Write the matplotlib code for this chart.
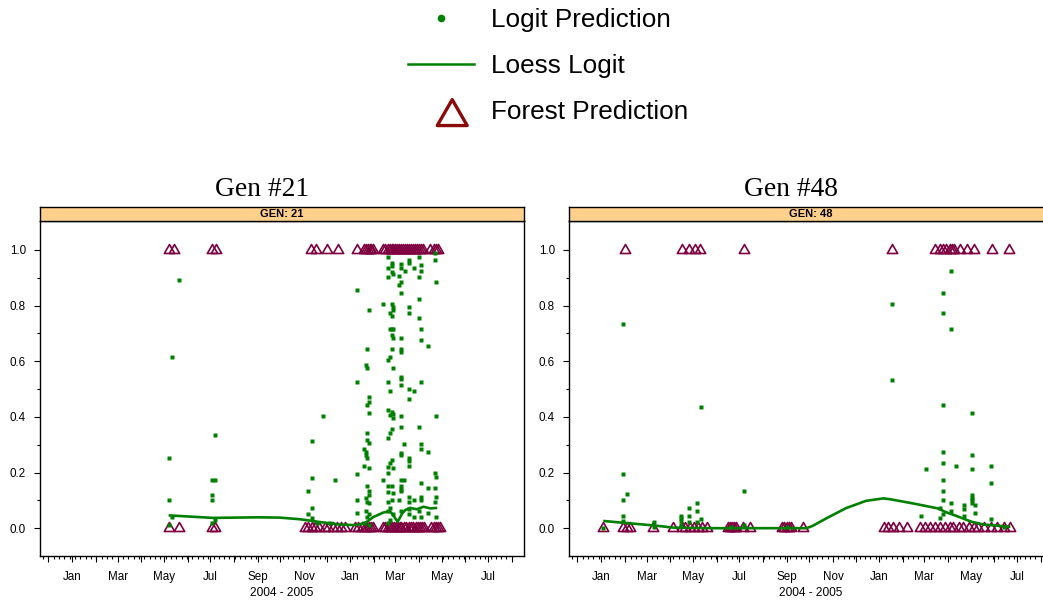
import matplotlib
matplotlib.use("Agg")
import matplotlib.pyplot as plt
import matplotlib.dates as mdates
import matplotlib.ticker as mticker
from matplotlib.lines import Line2D
from matplotlib.path import Path
import numpy as np
import pandas as pd

# ---------------------------------------------------------------- data
# Gen #21 ---------------------------------------------------------------
g21_forest_one = [
    "2004-05-07", "2004-05-14", "2004-07-03", "2004-07-08",
    "2004-11-10", "2004-11-17", "2004-12-01", "2004-12-15",
    "2005-01-10", "2005-01-19", "2005-01-21", "2005-01-24", "2005-01-26",
    "2005-01-28", "2005-01-30", "2005-02-13", "2005-02-16", "2005-02-19",
    "2005-02-22", "2005-02-24", "2005-02-26", "2005-03-01", "2005-03-03",
    "2005-03-06", "2005-03-08", "2005-03-11", "2005-03-13", "2005-03-16",
    "2005-03-19", "2005-03-21", "2005-03-24", "2005-03-27", "2005-03-29",
    "2005-04-01", "2005-04-03", "2005-04-06", "2005-04-15", "2005-04-21",
    "2005-04-23", "2005-04-26",
]
g21_forest_zero = [
    "2004-05-07", "2004-05-20", "2004-07-03", "2004-07-07",
    "2004-11-02", "2004-11-06", "2004-11-11", "2004-11-16", "2004-11-21",
    "2004-11-28", "2004-12-03", "2004-12-09", "2004-12-14", "2004-12-19",
    "2004-12-25", "2005-01-07", "2005-01-11", "2005-01-16", "2005-01-20",
    "2005-01-23", "2005-01-25", "2005-01-28", "2005-01-30", "2005-02-13",
    "2005-02-16", "2005-02-19", "2005-02-22", "2005-02-24", "2005-02-27",
    "2005-03-02", "2005-03-04", "2005-03-07", "2005-03-09", "2005-03-12",
    "2005-03-15", "2005-03-19", "2005-03-21", "2005-03-24", "2005-03-28",
    "2005-03-31", "2005-04-02", "2005-04-05", "2005-04-07", "2005-04-17",
    "2005-04-21", "2005-04-23", "2005-04-26", "2005-04-29",
]
g21_logit_dates = [
    "2004-05-07", "2004-05-12", "2004-05-20", "2004-07-03", "2004-07-07",
    "2004-11-06", "2004-11-11", "2004-11-18", "2004-11-26", "2004-12-05",
    "2004-12-12", "2005-01-10", "2005-01-19", "2005-01-21", "2005-01-23",
    "2005-01-25", "2005-02-13", "2005-02-19", "2005-02-22", "2005-02-24",
    "2005-02-26", "2005-03-06", "2005-03-08", "2005-03-12", "2005-03-13",
    "2005-03-19", "2005-03-25", "2005-04-01", "2005-04-03", "2005-04-13",
    "2005-04-22", "2005-04-24",
]
g21_logit_values = [
    [0.252, 0.101, 0.010],
    [0.615, 0.040],
    [0.893],
    [0.173, 0.120, 0.100, 0.020],
    [0.335, 0.173, 0.030],
    [0.133, 0.050],
    [0.313, 0.182, 0.073, 0.035],
    [0.020],
    [0.403],
    [0.020],
    [0.173],
    [0.855, 0.524, 0.194, 0.103, 0.053],
    [0.284, 0.223, 0.020],
    [0.585, 0.274, 0.263, 0.107, 0.060],
    [0.645, 0.574, 0.442, 0.343, 0.317, 0.253, 0.152, 0.095, 0.040],
    [0.784, 0.472, 0.454, 0.413, 0.305, 0.215, 0.133, 0.121, 0.089, 0.050, 0.010],
    [0.805, 0.173],
    [0.976, 0.934, 0.904, 0.604, 0.524, 0.424, 0.323, 0.221, 0.197, 0.152,
     0.131, 0.095, 0.060, 0.020],
    [0.774, 0.715, 0.614, 0.493, 0.406, 0.343, 0.233, 0.071, 0.030],
    [0.952, 0.944, 0.922, 0.805, 0.763, 0.715, 0.694, 0.645, 0.417, 0.355,
     0.245, 0.152, 0.100],
    [0.912, 0.796, 0.784, 0.715, 0.682, 0.574, 0.412, 0.396, 0.215, 0.125, 0.050],
    [0.906, 0.874, 0.100],
    [0.948, 0.934, 0.884, 0.844, 0.685, 0.644, 0.634, 0.544, 0.535, 0.514,
     0.403, 0.362, 0.271, 0.263, 0.173, 0.152, 0.140, 0.133, 0.060],
    [0.302, 0.173],
    [0.925],
    [0.964, 0.954, 0.794, 0.774, 0.502, 0.463, 0.253, 0.241, 0.223, 0.113,
     0.095, 0.070, 0.050],
    [0.934, 0.493, 0.103, 0.040],
    [0.976, 0.904, 0.824, 0.754, 0.362, 0.060],
    [0.945, 0.925, 0.715, 0.676, 0.524, 0.302, 0.283, 0.163, 0.113, 0.103, 0.040],
    [0.655, 0.273, 0.143, 0.053],
    [0.990, 0.964, 0.200, 0.143, 0.095],
    [0.884, 0.403, 0.185, 0.113, 0.041],
]
g21_loess_dates = [
    "2004-05-07", "2004-07-04", "2004-09-02", "2004-09-30", "2004-10-27",
    "2004-11-22", "2004-12-18", "2005-01-07", "2005-01-20", "2005-01-31",
    "2005-02-13", "2005-02-22", "2005-03-01", "2005-03-04", "2005-03-10",
    "2005-03-14", "2005-03-20", "2005-03-29", "2005-04-07", "2005-04-16",
    "2005-04-25",
]
g21_loess_values = [
    0.046, 0.037, 0.039, 0.038, 0.032, 0.022, 0.013, 0.011, 0.018, 0.040,
    0.056, 0.061, 0.035, 0.023, 0.053, 0.065, 0.073, 0.068, 0.077, 0.071,
    0.073,
]

# Gen #48 ---------------------------------------------------------------
g48_forest_one = [
    "2004-02-01", "2004-04-16", "2004-04-26", "2004-05-04", "2004-05-10",
    "2004-07-07", "2005-01-18", "2005-03-15", "2005-03-21", "2005-03-26",
    "2005-03-30", "2005-04-03", "2005-04-06", "2005-04-09", "2005-04-17",
    "2005-04-26", "2005-05-05", "2005-05-29", "2005-06-20",
]
g48_forest_zero = [
    "2004-01-04", "2004-01-30", "2004-02-04", "2004-02-08", "2004-03-09",
    "2004-04-05", "2004-04-16", "2004-04-21", "2004-04-27", "2004-05-02",
    "2004-05-08", "2004-05-13", "2004-05-19", "2004-06-16", "2004-06-18",
    "2004-06-21", "2004-06-24", "2004-06-26", "2004-07-05", "2004-07-15",
    "2004-08-26", "2004-08-29", "2004-09-01", "2004-09-04", "2004-09-07",
    "2004-09-22", "2005-01-07", "2005-01-12", "2005-01-19", "2005-01-26",
    "2005-02-06", "2005-02-23", "2005-03-02", "2005-03-08", "2005-03-15",
    "2005-03-22", "2005-03-28", "2005-04-03", "2005-04-08", "2005-04-15",
    "2005-04-21", "2005-04-28", "2005-05-05", "2005-05-11", "2005-05-18",
    "2005-05-27", "2005-06-05", "2005-06-13", "2005-06-22",
]
g48_logit_dates = [
    "2004-01-04", "2004-01-30", "2004-02-04", "2004-03-11", "2004-04-15",
    "2004-04-26", "2004-05-06", "2004-05-11", "2004-06-20", "2004-07-07",
    "2004-09-01", "2005-01-17", "2005-02-24", "2005-03-03", "2005-03-22",
    "2005-03-26", "2005-04-05", "2005-04-12", "2005-04-22", "2005-05-02",
    "2005-05-07", "2005-05-28", "2005-06-13",
]
g48_logit_values = [
    [0.000],
    [0.734, 0.193, 0.103, 0.043, 0.025],
    [0.123],
    [0.023, 0.005],
    [0.043, 0.035, 0.025, 0.010],
    [0.073, 0.043, 0.023],
    [0.092, 0.062, 0.023],
    [0.434, 0.032],
    [0.004],
    [0.133, 0.010],
    [0.003],
    [0.805, 0.534],
    [0.043],
    [0.213],
    [0.073, 0.035],
    [0.844, 0.774, 0.444, 0.273, 0.233, 0.173, 0.133, 0.103, 0.050],
    [0.924, 0.715, 0.092, 0.062],
    [0.223],
    [0.083, 0.070, 0.043],
    [0.414, 0.263, 0.213, 0.120, 0.110, 0.103, 0.092],
    [0.083, 0.053],
    [0.223, 0.163, 0.034],
    [0.005],
]
g48_loess_dates = [
    "2004-01-04", "2004-02-01", "2004-03-10", "2004-04-05", "2004-05-27",
    "2004-07-03", "2004-09-27", "2004-10-05", "2004-10-25", "2004-11-18",
    "2004-12-14", "2005-01-06", "2005-01-15", "2005-02-14", "2005-03-19",
    "2005-03-28", "2005-04-13", "2005-05-02", "2005-05-18", "2005-06-22",
]
g48_loess_values = [
    0.026, 0.019, 0.010, 0.002, 0.000, 0.000, 0.000, 0.008, 0.038, 0.072,
    0.098, 0.107, 0.104, 0.089, 0.071, 0.059, 0.043, 0.023, 0.013, 0.005,
]

panel_titles = ["Gen #21", "Gen #48"]
strip_labels = ["GEN: 21", "GEN: 48"]
legend_labels = ["Logit Prediction", "Loess Logit", "Forest Prediction"]
x_label = "2004 - 2005"

# ---------------------------------------------------------------- style
GREEN = "#008000"
TRI_COLOR = "#7E0040"
KEY_TRI_COLOR = "#8B0A0A"
STRIP_COLOR = "#FFD08C"
SANS = ["Liberation Sans", "DejaVu Sans"]
SERIF = ["Liberation Serif", "DejaVu Serif"]

# equilateral triangle (open), centred on its circumcentre
TRI = Path([(0.0, 1.0), (-0.866, -0.5), (0.866, -0.5), (0.0, 1.0)], closed=True)
# same triangle for the key, sitting a little right of and below the handle centre
KEY_TRI = Path([(0.62, 0.63), (-0.246, -0.87), (1.486, -0.87), (0.62, 0.63)],
               closed=True)

W, H = 1043, 602
fig = plt.figure(figsize=(W / 100, H / 100), dpi=100)
fig.patch.set_facecolor("white")

X_MIN = pd.Timestamp("2003-11-20")
X_MAX = pd.Timestamp("2005-08-17")
month_ticks = pd.date_range("2003-12-01", "2005-08-01", freq="MS")
week_ticks = pd.date_range("2003-11-17", "2005-08-01", freq="7D")


def px_rect(x0, y_top, w, h):
    return [x0 / W, 1 - (y_top + h) / H, w / W, h / H]


def draw_panel(x0, title, strip, f_one, f_zero, l_dates, l_vals, lo_dates, lo_vals):
    ax = fig.add_axes(px_rect(x0, 221, 484, 335))
    # forest predictions (0 / 1)
    d1 = pd.to_datetime(f_one)
    d0 = pd.to_datetime(f_zero)
    ax.plot(d1, np.ones(len(d1)), ls="none", marker=TRI, ms=8.6,
            mfc="none", mec=TRI_COLOR, mew=1.2, zorder=2)
    ax.plot(d0, np.zeros(len(d0)), ls="none", marker=TRI, ms=8.6,
            mfc="none", mec=TRI_COLOR, mew=1.2, zorder=2)
    # logit predictions
    xs, ys = [], []
    for d, vals in zip(l_dates, l_vals):
        xs += [d] * len(vals)
        ys += vals
    ax.plot(pd.to_datetime(xs), ys, ls="none", marker="s", ms=2.3,
            mfc=GREEN, mec="none", zorder=3)
    # loess smooth of the logit predictions
    ax.plot(pd.to_datetime(lo_dates), lo_vals, color=GREEN, lw=1.9,
            solid_capstyle="butt", solid_joinstyle="round", zorder=4)

    ax.set_xlim(X_MIN, X_MAX)
    ax.set_ylim(-0.10, 1.104)
    for s in ax.spines.values():
        s.set_linewidth(1.0)

    ax.xaxis.set_major_locator(mticker.FixedLocator(mdates.date2num(month_ticks)))
    ax.xaxis.set_minor_locator(mticker.FixedLocator(mdates.date2num(week_ticks)))
    ax.xaxis.set_major_formatter(mticker.FuncFormatter(
        lambda v, p: mdates.num2date(v).strftime("%b")
        if mdates.num2date(v).month % 2 == 1 else ""))
    ax.yaxis.set_major_locator(mticker.FixedLocator([0, 0.2, 0.4, 0.6, 0.8, 1.0]))
    ax.yaxis.set_minor_locator(mticker.FixedLocator([0.1, 0.3, 0.5, 0.7, 0.9]))
    ax.yaxis.set_major_formatter(mticker.FormatStrFormatter("%.1f"))
    ax.tick_params(axis="both", which="major", direction="out", length=4.2,
                   width=0.8, labelsize=8.4, colors="black")
    ax.tick_params(axis="both", which="minor", direction="out", length=2.0,
                   width=0.8)
    ax.tick_params(axis="x", which="major", pad=6.5)
    ax.tick_params(axis="y", which="major", pad=6.0)
    ax.tick_params(top=False, right=False, which="both")
    for lab in ax.get_xticklabels() + ax.get_yticklabels():
        lab.set_family(SANS)
    ax.set_xlabel(x_label, family=SANS, fontsize=8.6, labelpad=3)

    # strip
    sax = fig.add_axes(px_rect(x0, 207, 484, 14))
    sax.set_facecolor(STRIP_COLOR)
    sax.set_xticks([])
    sax.set_yticks([])
    for s in sax.spines.values():
        s.set_linewidth(1.0)
    sax.text(0.5, 0.47, strip, ha="center", va="center", fontsize=8.0,
             fontweight="bold", family=SANS, transform=sax.transAxes)

    # panel title, centred over panel + tick labels
    fig.text((x0 - 40 + 262) / W, 1 - 190 / H, title, ha="center", va="center",
             fontsize=19.8, family=SERIF)
    return ax


draw_panel(40, panel_titles[0], strip_labels[0], g21_forest_one, g21_forest_zero,
           g21_logit_dates, g21_logit_values, g21_loess_dates, g21_loess_values)
draw_panel(569, panel_titles[1], strip_labels[1], g48_forest_one, g48_forest_zero,
           g48_logit_dates, g48_logit_values, g48_loess_dates, g48_loess_values)

# key at the top
handles = [
    Line2D([], [], ls="none", marker="o", ms=5.5, mfc=GREEN, mec="none"),
    Line2D([], [], color=GREEN, lw=1.8),
    Line2D([], [], ls="none", marker=KEY_TRI, ms=37, mfc="none",
           mec=KEY_TRI_COLOR, mew=2.4),
]
fig.legend(handles, legend_labels, loc="upper left",
           bbox_to_anchor=(408 / W, 1 - 8 / H), frameon=False,
           prop={"family": SANS, "size": 18.8}, handlelength=2.54,
           handletextpad=0.65, labelspacing=0.85, borderpad=0,
           borderaxespad=0)

fig.savefig("out.png", dpi=100)
